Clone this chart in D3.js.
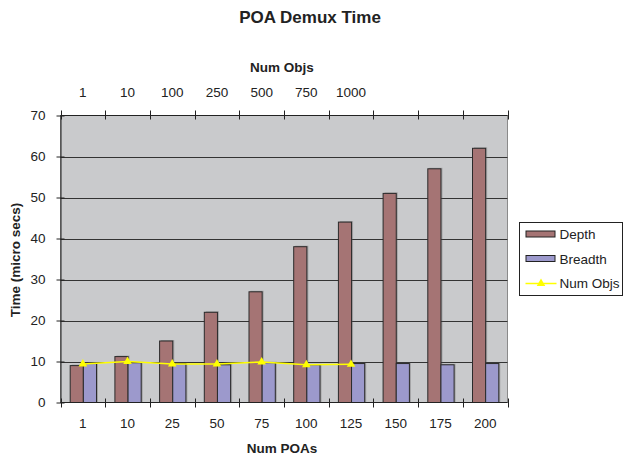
<!DOCTYPE html>
<html>
<head>
<meta charset="utf-8">
<script src="https://cdn.jsdelivr.net/npm/d3@7"></script>
<style>
  html, body { margin: 0; padding: 0; background: #fff; }
  svg { display: block; font-family: "Liberation Sans", Arial, sans-serif; }
</style>
</head>
<body>
<svg id="chart" width="624" height="459"></svg>
<script>
  const numPOAs = ["1", "10", "25", "50", "75", "100", "125", "150", "175", "200"];
  const numObjs = ["1", "10", "100", "250", "500", "750", "1000"];
  const depth = [9, 11.2, 15, 22, 27, 38, 44, 51, 57, 62];
  const breadth = [9.5, 9.7, 9.5, 9.2, 9.7, 9.2, 9.5, 9.5, 9.2, 9.5];
  const objTimes = [9.4, 10, 9.4, 9.4, 9.9, 9.2, 9.3];
  const yTicks = [0, 10, 20, 30, 40, 50, 60, 70];

  const plot = { left: 60.5, right: 507.5, top: 115.5, bottom: 402.5 };
  const svg = d3.select("#chart");
  const FS = 13.5;

  const x = d3.scaleBand().domain(numPOAs).range([plot.left, plot.right]);
  const xTop = d3.scaleBand().domain(numObjs).range([plot.left, plot.left + x.step() * numObjs.length]);
  const sub = d3.scaleBand().domain(["Depth", "Breadth"]).range([0, x.bandwidth()]).paddingOuter(0.7);
  const y = d3.scaleLinear().domain([0, 70]).range([plot.bottom, plot.top]);

  const depthColor = "#a57474";
  const breadthColor = "#9c99cc";
  const lineColor = "#ffff00";

  // title
  svg.append("text").attr("x", 310).attr("y", 23).attr("text-anchor", "middle")
    .attr("font-size", 17).attr("font-weight", "bold").attr("fill", "#222").text("POA Demux Time");

  // plot area
  svg.append("rect").attr("x", plot.left).attr("y", plot.top)
    .attr("width", plot.right - plot.left).attr("height", plot.bottom - plot.top)
    .attr("fill", "#c9cacc").attr("stroke", "#8a8a8a");

  // gridlines
  svg.append("g").selectAll("line").data(yTicks.filter((d) => d > 0 && d < 70)).enter().append("line")
    .attr("x1", plot.left).attr("x2", plot.right)
    .attr("y1", (d) => Math.round(y(d)) + 0.5).attr("y2", (d) => Math.round(y(d)) + 0.5)
    .attr("stroke", "#333").attr("stroke-width", 1);

  // bars
  const groups = svg.append("g").selectAll("g").data(numPOAs).enter().append("g")
    .attr("transform", (d) => `translate(${x(d)},0)`);

  function drawBars(values, key, color) {
    groups.append("rect")
      .attr("x", (d, i) => sub(key) + 2)
      .attr("y", (d, i) => y(values[i]) - 1)
      .attr("width", sub.bandwidth())
      .attr("height", (d, i) => plot.bottom - y(values[i]) + 1)
      .attr("fill", "#555").attr("opacity", 0.35);
    groups.append("rect")
      .attr("x", (d, i) => sub(key) + 0.5)
      .attr("y", (d, i) => y(values[i]))
      .attr("width", sub.bandwidth())
      .attr("height", (d, i) => plot.bottom - y(values[i]))
      .attr("fill", color).attr("stroke", "#2a2a2a").attr("stroke-width", 1);
  }
  drawBars(depth, "Depth", depthColor);
  drawBars(breadth, "Breadth", breadthColor);

  // line for Num Objs (top axis)
  const cx = (d) => xTop(d) + xTop.bandwidth() / 2;
  const line = d3.line().x((d, i) => cx(numObjs[i])).y((d) => y(d));
  svg.append("path").datum(objTimes).attr("d", line)
    .attr("fill", "none").attr("stroke", lineColor).attr("stroke-width", 1.5);
  const tri = d3.symbol().type(d3.symbolTriangle).size(32);
  svg.append("g").selectAll("path").data(objTimes).enter().append("path")
    .attr("d", tri)
    .attr("transform", (d, i) => `translate(${cx(numObjs[i])},${y(d)})`)
    .attr("fill", lineColor);

  // y axis
  const yAxis = svg.append("g").attr("transform", `translate(${plot.left},0)`)
    .call(d3.axisLeft(y).tickValues(yTicks).tickSize(4).tickPadding(11).tickSizeOuter(0));
  yAxis.select(".domain").attr("stroke", "#222");
  yAxis.selectAll(".tick line").attr("stroke", "#222").attr("x2", 4).attr("x1", -4);
  yAxis.selectAll(".tick text").attr("font-size", FS).attr("fill", "#222")
    .attr("font-family", "Liberation Sans, Arial, sans-serif");

  // bottom axis: ticks on band edges
  const edges = numPOAs.map((d) => x(d)).concat([plot.right]);
  svg.append("line").attr("x1", plot.left).attr("x2", plot.right)
    .attr("y1", plot.bottom).attr("y2", plot.bottom).attr("stroke", "#222");
  svg.append("g").selectAll("line").data(edges).enter().append("line")
    .attr("x1", (d) => Math.round(d) + 0.5).attr("x2", (d) => Math.round(d) + 0.5)
    .attr("y1", plot.bottom - 4).attr("y2", plot.bottom + 5).attr("stroke", "#222");
  svg.append("g").selectAll("text").data(numPOAs).enter().append("text")
    .attr("x", (d) => x(d) + x.bandwidth() / 2).attr("y", 428)
    .attr("text-anchor", "middle").attr("font-size", FS).attr("fill", "#222").text((d) => d);
  svg.append("text").attr("x", 282).attr("y", 453).attr("text-anchor", "middle")
    .attr("font-size", FS).attr("font-weight", "bold").attr("fill", "#222").text("Num POAs");

  // top axis
  svg.append("line").attr("x1", plot.left).attr("x2", plot.right)
    .attr("y1", plot.top).attr("y2", plot.top).attr("stroke", "#222");
  svg.append("g").selectAll("line").data(edges).enter().append("line")
    .attr("x1", (d) => Math.round(d) + 0.5).attr("x2", (d) => Math.round(d) + 0.5)
    .attr("y1", plot.top - 5).attr("y2", plot.top + 4).attr("stroke", "#222");
  svg.append("g").selectAll("text").data(numObjs).enter().append("text")
    .attr("x", (d) => cx(d)).attr("y", 97)
    .attr("text-anchor", "middle").attr("font-size", FS).attr("fill", "#222").text((d) => d);
  svg.append("text").attr("x", 282).attr("y", 72).attr("text-anchor", "middle")
    .attr("font-size", FS).attr("font-weight", "bold").attr("fill", "#222").text("Num Objs");

  // y title
  svg.append("text").attr("transform", `translate(15,260) rotate(-90)`)
    .attr("text-anchor", "middle").attr("dy", "0.35em")
    .attr("font-size", FS).attr("font-weight", "bold").attr("fill", "#222").text("Time (micro secs)");

  // legend
  const legendItems = ["Depth", "Breadth", "Num Objs"];
  const legend = svg.append("g").attr("transform", "translate(519.5,222.5)");
  legend.append("rect").attr("width", 103).attr("height", 73)
    .attr("fill", "#fff").attr("stroke", "#222");
  const li = legend.selectAll("g").data(legendItems).enter().append("g")
    .attr("transform", (d, i) => `translate(6,${12 + i * 24.5})`);
  li.filter((d, i) => i < 2).append("rect")
    .attr("x", 0.5).attr("y", -3.5).attr("width", 29).attr("height", 6)
    .attr("fill", (d, i) => (i === 0 ? depthColor : breadthColor)).attr("stroke", "#222");
  const lastItem = li.filter((d, i) => i === 2);
  lastItem.append("line").attr("x1", 0).attr("x2", 31).attr("y1", 0).attr("y2", 0)
    .attr("stroke", lineColor).attr("stroke-width", 1.5);
  lastItem.append("path").attr("d", tri).attr("transform", "translate(15.5,0)").attr("fill", lineColor);
  li.append("text").attr("x", 34).attr("y", 0).attr("dy", "0.35em")
    .attr("font-size", FS).attr("fill", "#222").text((d) => d);
</script>
</body>
</html>
